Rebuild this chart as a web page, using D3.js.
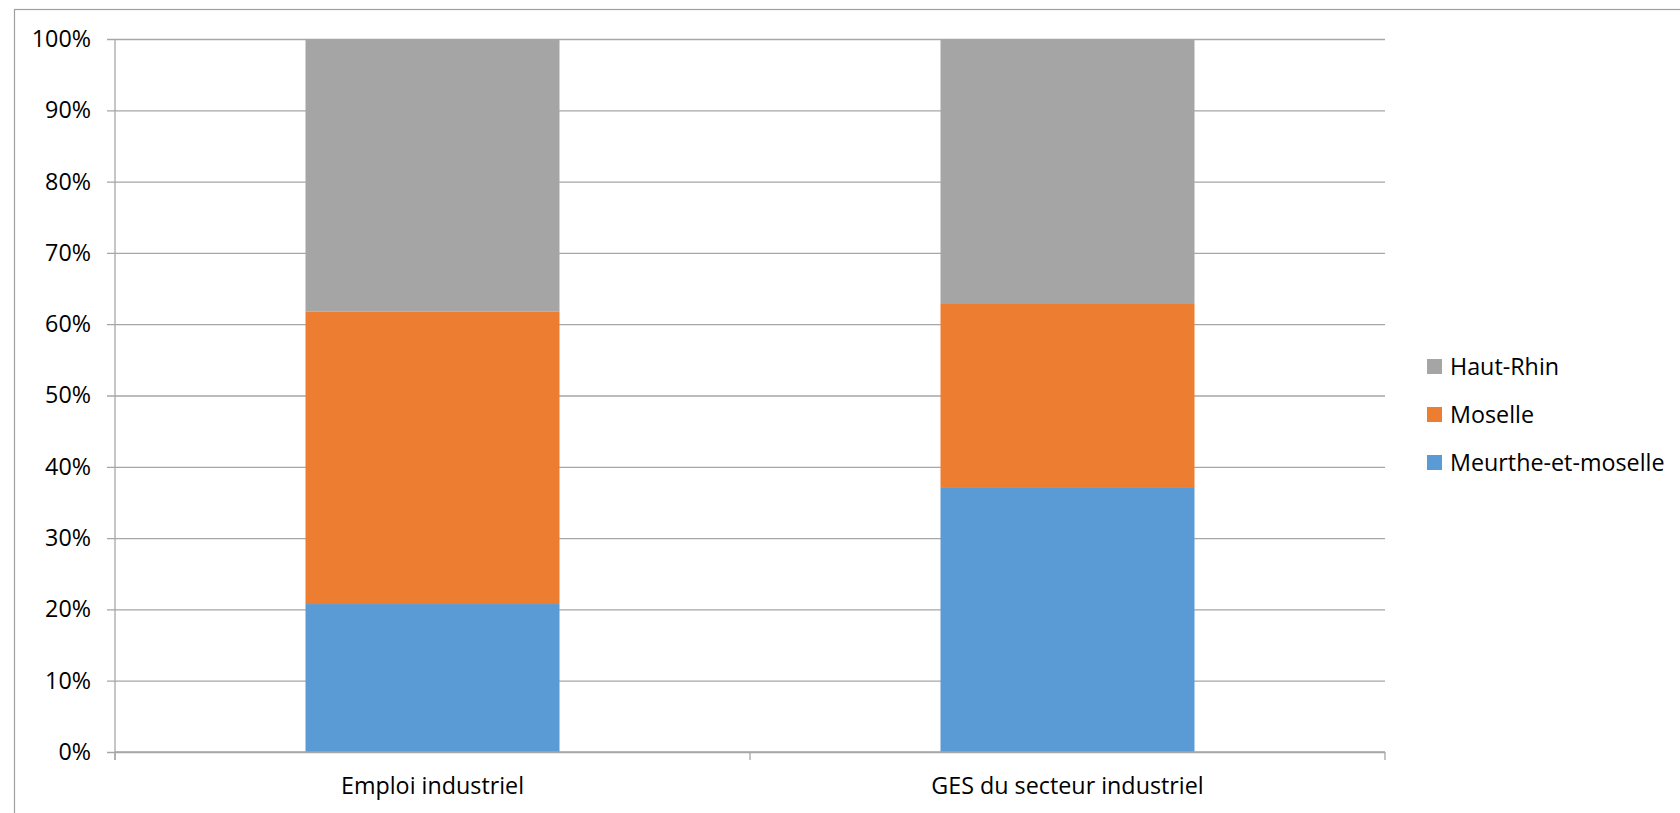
<!DOCTYPE html>
<html>
<head>
<meta charset="utf-8">
<script src="https://cdn.jsdelivr.net/npm/d3@7"></script>
<style>
  body { margin: 0; background: #fff; }
  svg { display: block; }
  text { font-family: "Open Sans", Lato, sans-serif; fill: #000; }
</style>
</head>
<body>
<svg width="1680" height="813"></svg>
<script>
// data (percent of each column)
var categories = ["Emploi industriel", "GES du secteur industriel"];
var seriesNames = ["Meurthe-et-moselle", "Moselle", "Haut-Rhin"];
var meurthe = [20.75, 37.15];
var moselle = [41.05, 25.8];
var hautRhin = [38.2, 37.05];
var yTicks = [0, 10, 20, 30, 40, 50, 60, 70, 80, 90, 100];
var colors = ["#5b9bd5", "#ed7d31", "#a5a5a5"];

var fontSize = 23.3;
var svg = d3.select('svg');

// chart border
svg.append('rect')
    .attr('x', 14.5).attr('y', 9.5)
    .attr('width', 1700).attr('height', 900)
    .attr('fill', 'none')
    .attr('stroke', '#a0a0a0')
    .attr('stroke-width', 1.2);

var plotLeft = 115, plotRight = 1385, plotTop = 39, plotBottom = 752;

var scaleX = d3.scaleBand().domain(categories).range([plotLeft, plotRight])
    .paddingInner(0.6).paddingOuter(0.3);
var scaleY = d3.scaleLinear().domain([0, 100]).range([plotBottom, plotTop]);

// gridlines + y labels
var yAxis = svg.append('g')
    .attr('transform', 'translate(' + plotLeft + ',0)')
    .call(d3.axisLeft(scaleY).tickValues(yTicks)
        .tickSize(-(plotRight - plotLeft)).tickPadding(24)
        .tickFormat(function (d) { return d + '%'; }));
yAxis.select('.domain').remove();
yAxis.selectAll('.tick line')
    .attr('x1', -8)
    .attr('stroke', '#a6a6a6')
    .attr('stroke-width', 1.3);
yAxis.selectAll('.tick text')
    .attr('font-size', fontSize)
    .attr('font-family', '"Open Sans", Lato, sans-serif')
    .attr('fill', '#000');

// y axis line
svg.append('line')
    .attr('x1', plotLeft).attr('x2', plotLeft)
    .attr('y1', plotTop).attr('y2', plotBottom + 8)
    .attr('stroke', '#a6a6a6').attr('stroke-width', 1.3);

// stack the series
var rows = categories.map(function (c, i) {
    return { cat: c, "Meurthe-et-moselle": meurthe[i], "Moselle": moselle[i], "Haut-Rhin": hautRhin[i] };
});
var stacked = d3.stack().keys(seriesNames)(rows);

svg.selectAll('g.series')
    .data(stacked)
    .enter()
    .append('g')
    .attr('class', 'series')
    .attr('fill', function (d, i) { return colors[i]; })
    .selectAll('rect')
    .data(function (d) { return d; })
    .enter()
    .append('rect')
    .attr('x', function (d) { return scaleX(d.data.cat); })
    .attr('width', scaleX.bandwidth())
    .attr('y', function (d) { return scaleY(d[1]); })
    .attr('height', function (d) { return scaleY(d[0]) - scaleY(d[1]); });

// x axis
var xAxis = svg.append('g')
    .attr('transform', 'translate(0,' + plotBottom + ')')
    .call(d3.axisBottom(scaleX).tickSize(0).tickPadding(25));
xAxis.select('.domain').remove();
xAxis.selectAll('.tick text')
    .attr('font-size', fontSize)
    .attr('font-family', '"Open Sans", Lato, sans-serif')
    .attr('fill', '#000');

svg.append('line')
    .attr('x1', plotLeft).attr('x2', plotRight)
    .attr('y1', plotBottom).attr('y2', plotBottom)
    .attr('stroke', '#a6a6a6').attr('stroke-width', 1.3);

// category separator ticks
var sepTicks = d3.range(categories.length + 1).map(function (i) {
    return plotLeft + i * scaleX.step();
});
svg.selectAll('line.sep')
    .data(sepTicks)
    .enter()
    .append('line')
    .attr('class', 'sep')
    .attr('x1', function (d) { return d; })
    .attr('x2', function (d) { return d; })
    .attr('y1', plotBottom).attr('y2', plotBottom + 8)
    .attr('stroke', '#a6a6a6').attr('stroke-width', 1.3);

// legend (reverse order, like the picture)
var legend = svg.selectAll('g.legend')
    .data(seriesNames.slice().reverse())
    .enter()
    .append('g')
    .attr('class', 'legend')
    .attr('transform', function (d, i) { return 'translate(1427,' + (359 + i * 48) + ')'; });

legend.append('rect')
    .attr('width', 15).attr('height', 15)
    .attr('fill', function (d) { return colors[seriesNames.indexOf(d)]; });

legend.append('text')
    .attr('x', 23).attr('y', 7.5)
    .attr('dy', '0.35em')
    .attr('font-size', fontSize)
    .text(function (d) { return d; });
</script>
</body>
</html>
